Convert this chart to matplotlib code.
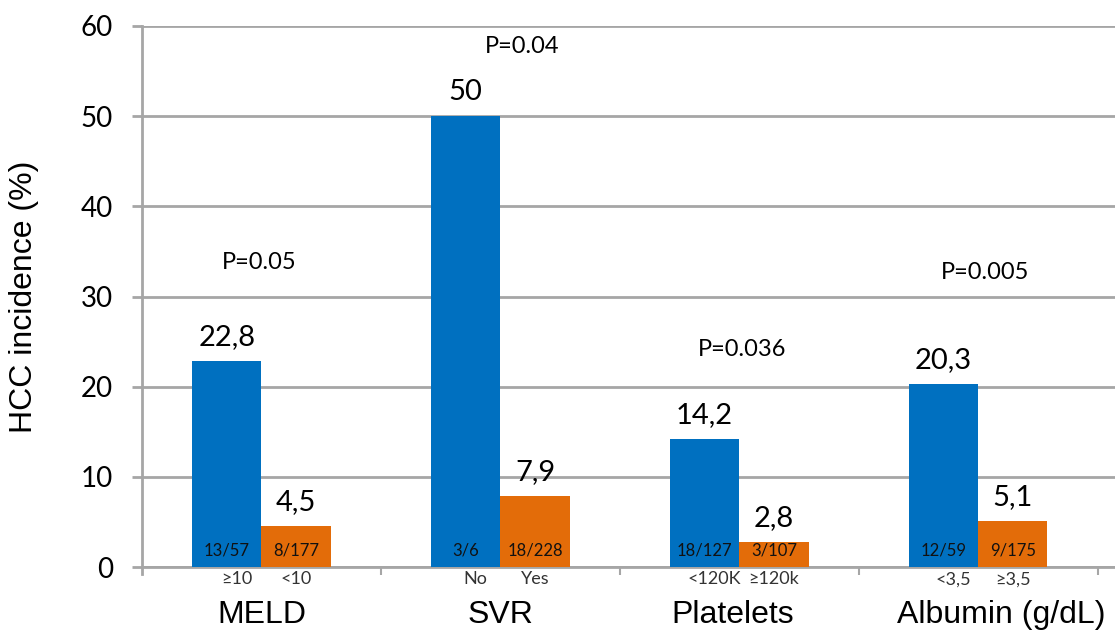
import matplotlib
matplotlib.use("Agg")
import matplotlib.pyplot as plt
import matplotlib.transforms as mtransforms
import numpy as np

categories = ["MELD", "SVR", "Platelets", "Albumin (g/dL)"]
group1_values = [22.8, 50, 14.2, 20.3]
group2_values = [4.5, 7.9, 2.8, 5.1]
group1_labels = ["22,8", "50", "14,2", "20,3"]
group2_labels = ["4,5", "7,9", "2,8", "5,1"]
group1_counts = ["13/57", "3/6", "18/127", "12/59"]
group2_counts = ["8/177", "18/228", "3/107", "9/175"]
group1_sub = ["≥10", "No", "<120K", "<3,5"]
group2_sub = ["<10", "Yes", "≥120k", "≥3,5"]
p_values = ["P=0.05", "P=0.04", "P=0.036", "P=0.005"]
p_heights = [33.8, 57.7, 24.1, 32.7]
p_xshift = [-0.01, 0.09, 0.01, 0.03]
cat_label_shift_px = [0, 0, -7, 23]

BLUE = "#0070C0"
ORANGE = "#E36C09"
GRID = "#A6A6A6"
CAL = ["Lato", "DejaVu Sans"]
ARIAL = ["Liberation Sans", "DejaVu Sans"]

fig = plt.figure(figsize=(11.15, 6.32), dpi=100)
ax = fig.add_axes([0.1274, 0.1028, 0.8726, 0.8561])

x = np.arange(len(categories))
w = 0.29
ax.bar(x - w / 2, group1_values, w, color=BLUE, zorder=3)
ax.bar(x + w / 2, group2_values, w, color=ORANGE, zorder=3)

ax.set_xlim(-0.5, 3.573)
ax.set_ylim(0, 60)
ax.set_yticks(np.arange(0, 61, 10))
ax.yaxis.grid(True, color=GRID, linewidth=2)
ax.set_axisbelow(True)
for s in ["top", "right"]:
    ax.spines[s].set_visible(False)
ax.spines["left"].set_color(GRID)
ax.spines["left"].set_linewidth(2)
ax.spines["left"].set_bounds(-0.8, 60)
ax.spines["bottom"].set_color(GRID)
ax.spines["bottom"].set_linewidth(2)
ax.tick_params(axis="y", length=7, width=2, color=GRID, pad=14, labelsize=20)
for lab in ax.get_yticklabels():
    lab.set_fontfamily(CAL)
ax.set_xticks(x)
ax.set_xticklabels(categories, fontsize=23, fontfamily=ARIAL)
ax.tick_params(axis="x", length=0, pad=24)
for lab, sh in zip(ax.get_xticklabels(), cat_label_shift_px):
    lab.set_transform(lab.get_transform() + mtransforms.ScaledTranslation(sh / 100, 0, fig.dpi_scale_trans))
ax.set_xticks(np.arange(0.5, 3.6, 1), minor=True)
ax.tick_params(axis="x", which="minor", length=6, width=1.5, color=GRID)

ax.set_ylabel("HCC incidence (%)", fontsize=23, fontfamily=ARIAL, labelpad=30)

for i in range(len(categories)):
    ax.annotate(group1_labels[i], (x[i] - w / 2, group1_values[i]), xytext=(0, 8),
                textcoords="offset points", ha="center", va="bottom", fontsize=21, fontfamily=CAL)
    ax.annotate(group2_labels[i], (x[i] + w / 2, group2_values[i]), xytext=(0, 8),
                textcoords="offset points", ha="center", va="bottom", fontsize=21, fontfamily=CAL)
    ax.text(x[i] - w / 2, 1.8, group1_counts[i], ha="center", va="center", fontsize=12,
            fontfamily=CAL, color="#111111", zorder=4)
    ax.text(x[i] + w / 2, 1.8, group2_counts[i], ha="center", va="center", fontsize=12,
            fontfamily=CAL, color="#111111", zorder=4)
    ax.annotate(group1_sub[i], (x[i] - w / 2 + 0.04, 0), xytext=(0, -3), textcoords="offset points",
                ha="center", va="top", fontsize=13, fontfamily=CAL, color="#333333", annotation_clip=False)
    ax.annotate(group2_sub[i], (x[i] + w / 2, 0), xytext=(0, -3), textcoords="offset points",
                ha="center", va="top", fontsize=13, fontfamily=CAL, color="#333333", annotation_clip=False)
    ax.text(x[i] + p_xshift[i], p_heights[i], p_values[i], ha="center", va="center",
            fontsize=17, fontfamily=CAL)

fig.savefig("out.png", dpi=100)
